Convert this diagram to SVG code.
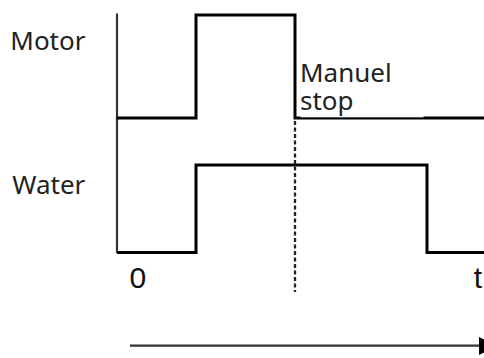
<svg xmlns="http://www.w3.org/2000/svg" width="484" height="358" viewBox="0 0 484 358">
<style>
.lbl{font-family:"Noto Sans","Open Sans",sans-serif;font-size:26px;fill:#222}
.ax{font-family:"Liberation Sans",Arial,sans-serif;font-size:30px;fill:#111}
.sig{fill:none;stroke:#000;stroke-width:3;stroke-linejoin:miter}
.axis{fill:none;stroke:#333;stroke-width:2.2}
</style>
<rect width="484" height="358" fill="#fff"/>
<g id="connectors">
<path class="axis" d="M117,13.5 V253"/>
<path id="motor-signal" class="sig" d="M117,118 H196 V15 H295 V118 H484"/>
<path id="water-signal" class="sig" d="M117,252.5 H196 V165 H427 V252.5 H484"/>
<path d="M295,121 V292" fill="none" stroke="#222" stroke-dasharray="4 2.5" stroke-width="2.3"/>
<path class="axis" d="M130,345.7 H480" stroke-width="2"/>
<polygon points="479,337 479,355 497,346" fill="#000"/>
</g>
<g id="motor-label"><text class="lbl" x="10.3" y="50">Motor</text></g>
<g id="water-label"><text class="lbl" x="12.3" y="194">Water</text></g>
<g id="manuel-stop">
<rect x="300.5" y="58" width="123" height="59.3" fill="#fff"/>
<text class="lbl" x="300" y="81.7">Manuel</text>
<text class="lbl" x="300" y="110">stop</text>
</g>
<g id="axis-labels">
<text class="ax" x="129.5" y="288">0</text>
<text class="ax" x="473.8" y="288">t</text>
</g>
</svg>
